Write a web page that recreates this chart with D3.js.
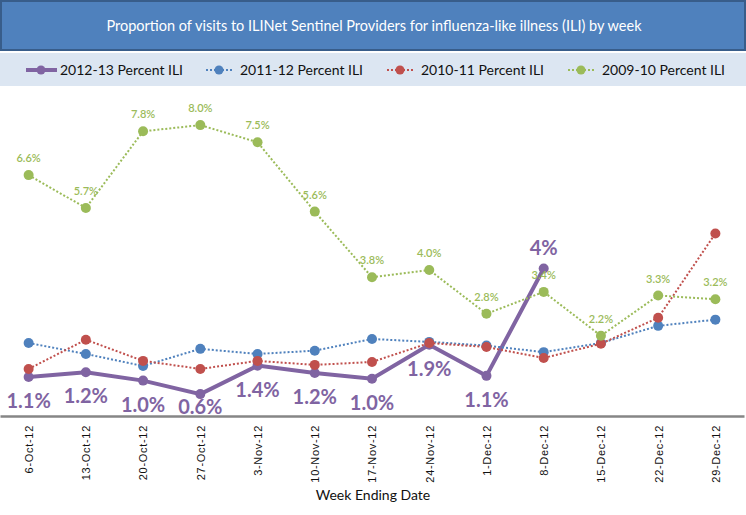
<!DOCTYPE html>
<html>
<head>
<meta charset="utf-8">
<script src="https://cdn.jsdelivr.net/npm/d3@7"></script>
<style>
  body { margin: 0; background: #fff; }
  svg { display: block; }
</style>
</head>
<body>
<div class="canvas"></div>
<script>
const weeks = ['6-Oct-12', '13-Oct-12', '20-Oct-12', '27-Oct-12', '3-Nov-12', '10-Nov-12', '17-Nov-12',
  '24-Nov-12', '1-Dec-12', '8-Dec-12', '15-Dec-12', '22-Dec-12', '29-Dec-12'];

const ili2012 = [1.07, 1.2, 0.97, 0.6, 1.38, 1.18, 1.02, 1.95, 1.1, 4.04];
const ili2012Labels = ['1.1%', '1.2%', '1.0%', '0.6%', '1.4%', '1.2%', '1.0%', '1.9%', '1.1%', '4%'];
const ili2011 = [2.0, 1.7, 1.37, 1.84, 1.7, 1.79, 2.11, 2.03, 1.93, 1.75, 2.0, 2.47, 2.64];
const ili2010 = [1.29, 2.09, 1.51, 1.29, 1.51, 1.4, 1.48, 2.0, 1.89, 1.59, 1.98, 2.69, 5.0];
const ili2009 = [6.6, 5.7, 7.8, 7.97, 7.5, 5.6, 3.8, 4.0, 2.8, 3.4, 2.2, 3.3, 3.2];
const ili2009Labels = ['6.6%', '5.7%', '7.8%', '8.0%', '7.5%', '5.6%', '3.8%', '4.0%', '2.8%', '3.4%', '2.2%', '3.3%', '3.2%'];

const seriesNames = ['2012-13 Percent ILI', '2011-12 Percent ILI', '2010-11 Percent ILI', '2009-10 Percent ILI'];

const width = 746;
const height = 515;
const axisY = 416;

const svg = d3.select('.canvas').append('svg').attr('width', width).attr('height', height);

// title box
svg.append('rect').attr('x', 1).attr('y', 1).attr('width', 744).attr('height', 49)
  .attr('fill', '#4f81bd').attr('stroke', '#385d8a').attr('stroke-width', 2);
svg.append('text').attr('x', 374).attr('y', 31).attr('text-anchor', 'middle')
  .attr('fill', 'white').style('font-family', 'Lato').style('font-size', '14.5px')
  .text('Proportion of visits to ILINet Sentinel Providers for influenza-like illness (ILI) by week');

// legend band
svg.append('rect').attr('x', 0).attr('y', 53).attr('width', width).attr('height', 33).attr('fill', '#dce6f2');

const x = d3.scalePoint().domain(weeks).range([0, 744]).padding(0.5);
const y = d3.scaleLinear().domain([0, 8]).range([axisY, 124]);

const series = [
  { name: seriesNames[0], values: ili2012, color: '#8064a2', width: 4, dash: null, r: 5 },
  { name: seriesNames[1], values: ili2011, color: '#4f81bd', width: 2, dash: '2,2', r: 5 },
  { name: seriesNames[2], values: ili2010, color: '#c0504d', width: 2, dash: '2,2', r: 5 },
  { name: seriesNames[3], values: ili2009, color: '#9bbb59', width: 2, dash: '2,2', r: 5 }
];

// legend
const legendX = [26, 206, 387, 568];
const legend = svg.selectAll('.legend').data(series).enter().append('g')
  .attr('class', 'legend')
  .attr('transform', (d, i) => `translate(${legendX[i]}, 70)`);
legend.append('line').attr('x1', 0).attr('x2', d => d.width > 2 ? 31 : 26)
  .attr('stroke', d => d.color).attr('stroke-width', d => d.width).attr('stroke-dasharray', d => d.dash);
legend.append('circle').attr('cx', d => d.width > 2 ? 15 : 13).attr('r', 4.5).attr('fill', d => d.color);
legend.append('text').attr('x', 34).attr('y', 5)
  .style('font-family', 'Lato').style('font-size', '14px').attr('fill', '#111').text(d => d.name);

// x axis
const xAxis = d3.axisBottom(x).tickSize(0);
const xAxisGroup = svg.append('g').attr('transform', `translate(0, ${axisY})`).call(xAxis);
xAxisGroup.select('.domain').attr('stroke', '#868686').attr('stroke-width', 2.5);
xAxisGroup.selectAll('text')
  .attr('transform', 'rotate(-90)')
  .attr('x', -9).attr('y', 0).attr('dy', '0.35em')
  .style('text-anchor', 'end')
  .style('font-family', 'Liberation Sans').style('font-size', '11px').style('letter-spacing', '0.7px')
  .attr('fill', '#111');

svg.append('text').attr('x', 373).attr('y', 500).attr('text-anchor', 'middle')
  .style('font-family', 'Lato').style('font-size', '14px').attr('fill', '#111')
  .text('Week Ending Date');

// lines and markers
const line = d3.line().x((d, i) => x(weeks[i])).y(d => y(d));

series.forEach(s => {
  svg.append('path').datum(s.values)
    .attr('fill', 'none').attr('stroke', s.color).attr('stroke-width', s.width)
    .attr('stroke-dasharray', s.dash).attr('d', line);
  svg.selectAll(null).data(s.values).enter().append('circle')
    .attr('cx', (d, i) => x(weeks[i])).attr('cy', d => y(d)).attr('r', s.r).attr('fill', s.color);
});

// data labels
svg.selectAll('.lbl09').data(ili2009).enter().append('text')
  .attr('x', (d, i) => x(weeks[i])).attr('y', d => y(d) - 13)
  .attr('text-anchor', 'middle').attr('fill', '#9bbb59')
  .style('font-family', 'Lato').style('font-size', '11px').style('font-weight', '600')
  .text((d, i) => ili2009Labels[i]);

svg.selectAll('.lbl12').data(ili2012).enter().append('text')
  .attr('x', (d, i) => x(weeks[i]))
  .attr('y', (d, i) => i === ili2012.length - 1 ? y(d) - 14 : Math.min(y(d) + 31, axisY - 2))
  .attr('text-anchor', 'middle').attr('fill', '#8064a2')
  .style('font-family', 'Lato').style('font-size', '20px').style('font-weight', 'bold')
  .text((d, i) => ili2012Labels[i]);
</script>
</body>
</html>
